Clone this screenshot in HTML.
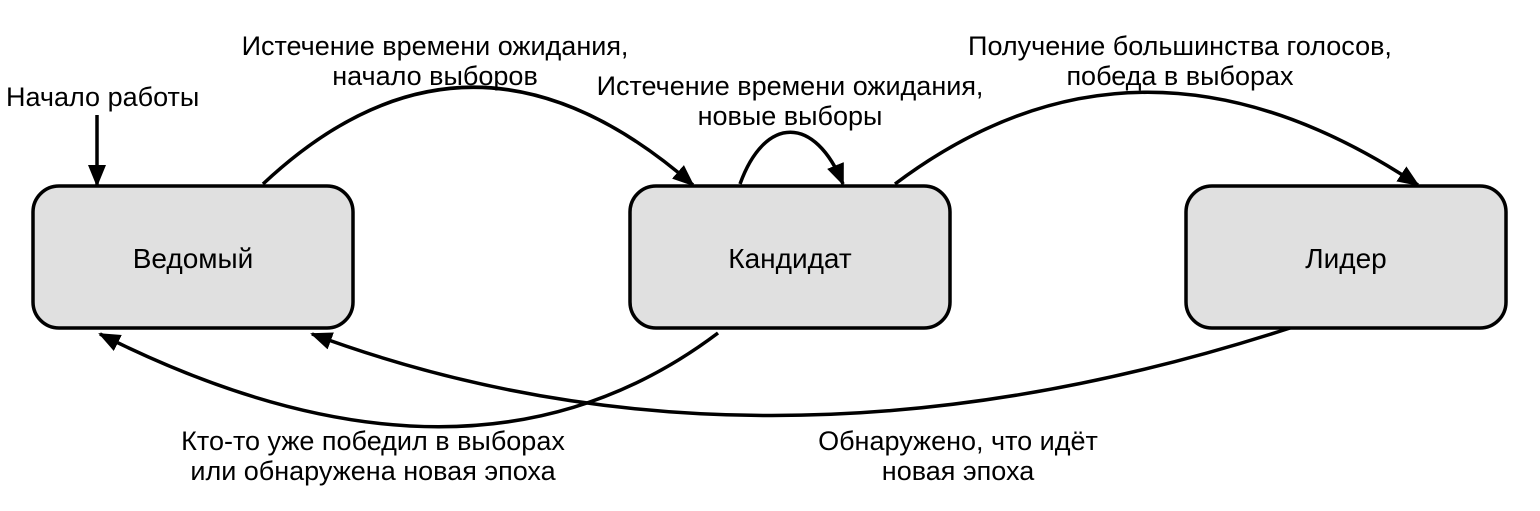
<!DOCTYPE html>
<html><head><meta charset="utf-8"><style>
html,body{margin:0;padding:0;background:#fff;}
svg{display:block}
text{font-family:"Liberation Sans","DejaVu Sans",sans-serif;font-size:27px;fill:#000;}
text.n{font-size:28px;}
</style></head><body>
<svg width="1540" height="511" viewBox="0 0 1540 511" xmlns="http://www.w3.org/2000/svg">
<defs>
<marker id="b" markerWidth="22" markerHeight="22" refX="20" refY="11" orient="auto" markerUnits="userSpaceOnUse" viewBox="0 0 22 22">
<path d="M0,2 L22,11 L0,20 z" fill="#000"/>
</marker>
</defs>
<g fill="#e0e0e0" stroke="#000" stroke-width="3.5">
<rect x="33" y="186" width="320" height="142" rx="26"/>
<rect x="630" y="186" width="320" height="142" rx="26"/>
<rect x="1186" y="186" width="320" height="142" rx="26"/>
</g>
<text class="n" x="193" y="268" text-anchor="middle">Ведомый</text>
<text class="n" x="790" y="268" text-anchor="middle">Кандидат</text>
<text class="n" x="1346" y="268" text-anchor="middle">Лидер</text>
<g fill="none" stroke="#000" stroke-width="3.5" marker-end="url(#b)">
<path d="M97,115 L97,185"/>
<path d="M263,184 Q470,-10 693,185"/>
<path d="M740,184 C765,115 815,115 843,184"/>
<path d="M895,184 Q1140,0 1418,185"/>
<path d="M718,333 Q470,520 100,334"/>
<path d="M1290,328 Q760,500 312,334"/>
</g>
<text x="6" y="106">Начало работы</text>
<text x="435" y="55" text-anchor="middle">Истечение времени ожидания,</text>
<text x="435" y="85" text-anchor="middle">начало выборов</text>
<text x="790" y="95" text-anchor="middle">Истечение времени ожидания,</text>
<text x="790" y="125" text-anchor="middle">новые выборы</text>
<text x="1180" y="55" text-anchor="middle">Получение большинства голосов,</text>
<text x="1180" y="85" text-anchor="middle">победа в выборах</text>
<text x="373" y="450" text-anchor="middle">Кто-то уже победил в выборах</text>
<text x="373" y="480" text-anchor="middle">или обнаружена новая эпоха</text>
<text x="958" y="450" text-anchor="middle">Обнаружено, что идёт</text>
<text x="958" y="480" text-anchor="middle">новая эпоха</text>
</svg>
</body></html>
